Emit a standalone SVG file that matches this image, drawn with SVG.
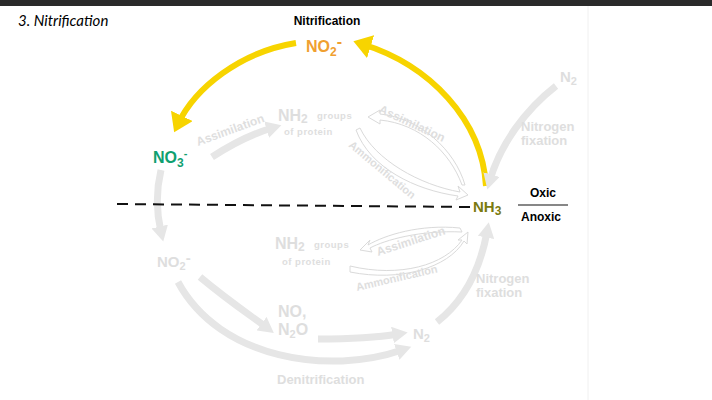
<svg xmlns="http://www.w3.org/2000/svg" width="712" height="400" viewBox="0 0 712 400">
<style>
.b{font-family:"Liberation Sans",Arial,sans-serif;font-weight:bold}
.gs{fill:none;stroke:#e6e6e6;stroke-width:7}
.go{fill:#fff;stroke:#dadada;stroke-width:1}
</style>
<defs>
<marker id="ya" markerWidth="4" markerHeight="4" refX="1.5" refY="2" orient="auto"><path d="M0,0L3,2L0,4z" fill="#f7d400"/></marker>
<marker id="ga" markerWidth="2.4" markerHeight="2.4" refX="0.8" refY="1.2" orient="auto"><path d="M0,0L2.2,1.2L0,2.4z" fill="#e6e6e6"/></marker>
</defs>
<rect width="712" height="400" fill="#fff"/>
<rect width="712" height="6" fill="#2a2a2a"/>
<line x1="588" y1="6" x2="588" y2="400" stroke="#f0f0f0"/>
<text x="18" y="26" font-family="Lato,'Liberation Sans',sans-serif" font-style="italic" font-size="15">3. Nitrification</text>
<g id="connectors">
<path d="M486,186 C482,120 430,65 362,44" fill="none" stroke="#f7d400" stroke-width="6" marker-end="url(#ya)"/>
<path d="M296,43 C240,52 195,88 178,124" fill="none" stroke="#f7d400" stroke-width="6" marker-end="url(#ya)"/>
<path class="gs" d="M212,157 C232,144 252,134 272,128" marker-end="url(#ga)"/>
<path class="gs" d="M556,86 C525,110 500,145 490,180" marker-end="url(#ga)"/>
<path class="gs" d="M161,170 C155,195 157,215 161,232" marker-end="url(#ga)"/>
<path class="gs" d="M200,277 C230,302 250,315 266,327" marker-end="url(#ga)"/>
<path class="gs" d="M318,339 C350,339 380,337 398,334" marker-end="url(#ga)"/>
<path class="gs" d="M178,282 C220,360 330,375 402,350" marker-end="url(#ga)"/>
<path class="gs" d="M437,322 C465,300 480,270 487,232" marker-end="url(#ga)"/>
<path d="M368,117 L380,110 L380,114 C420,118 455,150 465,185 L462,185 C450,152 420,124 380,120 L380,124z" class="go"/>
<path d="M360,128 C375,160 420,185 460,192 L458,186 L468,195 L456,200 L458,196 C415,190 370,168 356,130z" class="go"/>
<path d="M460,228 C420,224 385,235 368,245 L370,240 L360,250 L372,252 L370,248 C385,240 420,230 462,232z" class="go"/>
<path d="M350,266 C400,278 445,265 462,240 L458,240 L468,232 L467,244 L464,241 C448,268 400,282 350,272z" class="go"/>
<line x1="117" y1="204" x2="470" y2="207" stroke="#111" stroke-width="2" stroke-dasharray="11,7"/>
<line x1="518" y1="205" x2="568" y2="205" stroke="#111" stroke-width="1.2"/>
</g>
<g id="title"><text class="b" x="327" y="25" font-size="12" text-anchor="middle">Nitrification</text></g>
<g id="no2top"><text class="b" x="306" y="52" font-size="16" fill="#f0a030">NO<tspan font-size="12" dy="4">2</tspan><tspan dy="-9">-</tspan></text></g>
<g id="no3"><text class="b" x="153" y="163" font-size="16" fill="#10a070">NO<tspan font-size="12" dy="4">3</tspan><tspan font-size="11" dy="-10">-</tspan></text></g>
<g id="nh3"><text class="b" x="473" y="212" font-size="15" fill="#7a7a10">NH<tspan font-size="12" dy="3">3</tspan></text></g>
<g id="oxic"><text class="b" x="543" y="197" font-size="12" text-anchor="middle">Oxic</text><text class="b" x="541" y="221" font-size="12" text-anchor="middle">Anoxic</text></g>
<g id="gray" class="b" fill="#dedede">
<text x="560" y="82" font-size="15">N<tspan font-size="11" dy="3">2</tspan></text>
<text x="521" y="131" font-size="13">Nitrogen</text><text x="521" y="145" font-size="13">fixation</text>
<text x="198" y="146" font-size="12" transform="rotate(-20 198 146)">Assimilation</text>
<text x="278" y="121" font-size="16">NH<tspan font-size="12" dy="2">2</tspan></text>
<text x="317" y="119" font-size="9.5" letter-spacing="0.5">groups</text>
<text x="284" y="135" font-size="9.5" letter-spacing="0.5">of protein</text>
<text x="378" y="112" font-size="12" transform="rotate(25 378 112)">Assimilation</text>
<text x="348" y="146" font-size="11" transform="rotate(40 348 146)">Ammonification</text>
<text x="157" y="267" font-size="15">NO<tspan font-size="11" dy="3">2</tspan><tspan dy="-7">-</tspan></text>
<text x="275" y="249" font-size="16">NH<tspan font-size="12" dy="2">2</tspan></text>
<text x="314" y="248" font-size="9.5" letter-spacing="0.5">groups</text>
<text x="282" y="265" font-size="9.5" letter-spacing="0.5">of protein</text>
<text x="378" y="256" font-size="12" transform="rotate(-18 378 256)">Assimilation</text>
<text x="357" y="291" font-size="11" transform="rotate(-13 357 291)">Ammonification</text>
<text x="476" y="283" font-size="13">Nitrogen</text><text x="476" y="297" font-size="13">fixation</text>
<text x="278" y="317" font-size="16">NO,</text>
<text x="278" y="335" font-size="16">N<tspan font-size="11" dy="3">2</tspan><tspan dy="-3">O</tspan></text>
<text x="413" y="339" font-size="15">N<tspan font-size="11" dy="3">2</tspan></text>
<text x="277" y="384" font-size="13">Denitrification</text>
</g>
</svg>
